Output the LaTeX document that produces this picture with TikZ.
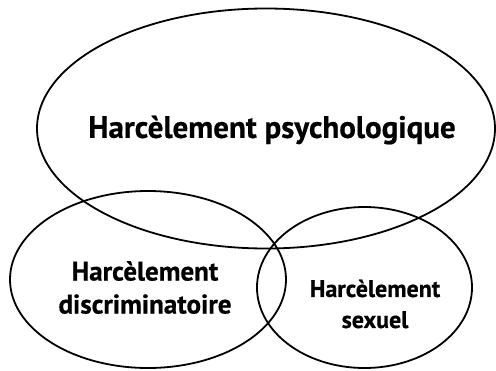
\documentclass[tikz,border=0pt]{standalone}
\usepackage{fontspec}
\setmainfont{PT Sans}
\newfontfamily\heavyfont[BoldFeatures={FakeBold=0.6}]{PT Sans}
\usepackage{tikz}
\usetikzlibrary{shapes.geometric}

\begin{document}
\begin{tikzpicture}[
  x=1pt, y=-1pt,
  zone/.style={
    ellipse,
    draw=black,
    line width=1.8pt,
    inner sep=0pt
  },
  label/.style={
    align=center,
    inner sep=0pt
  }
]
\useasboundingbox (0,0) rectangle (496,370);

% Ellipses
\node[zone, minimum width=458pt, minimum height=240pt] (psy) at (266,128.5) {};
\node[zone, minimum width=276pt, minimum height=177pt] (discr) at (148,279.5) {};
\node[zone, minimum width=215pt, minimum height=161pt] (sex) at (364.5,287.5) {};

% Labels
\node[label, font=\heavyfont\bfseries\fontsize{31}{36}\selectfont] (psytxt) at (272,130) {Harcèlement psychologique};
\node[label, font=\heavyfont\bfseries\fontsize{27}{33}\selectfont] (discrtxt) at (145,287.5) {Harcèlement\\discriminatoire};
\node[label, font=\heavyfont\bfseries\fontsize{24}{31}\selectfont] (sextxt) at (375,304) {Harcèlement\\sexuel};

\end{tikzpicture}
\end{document}
